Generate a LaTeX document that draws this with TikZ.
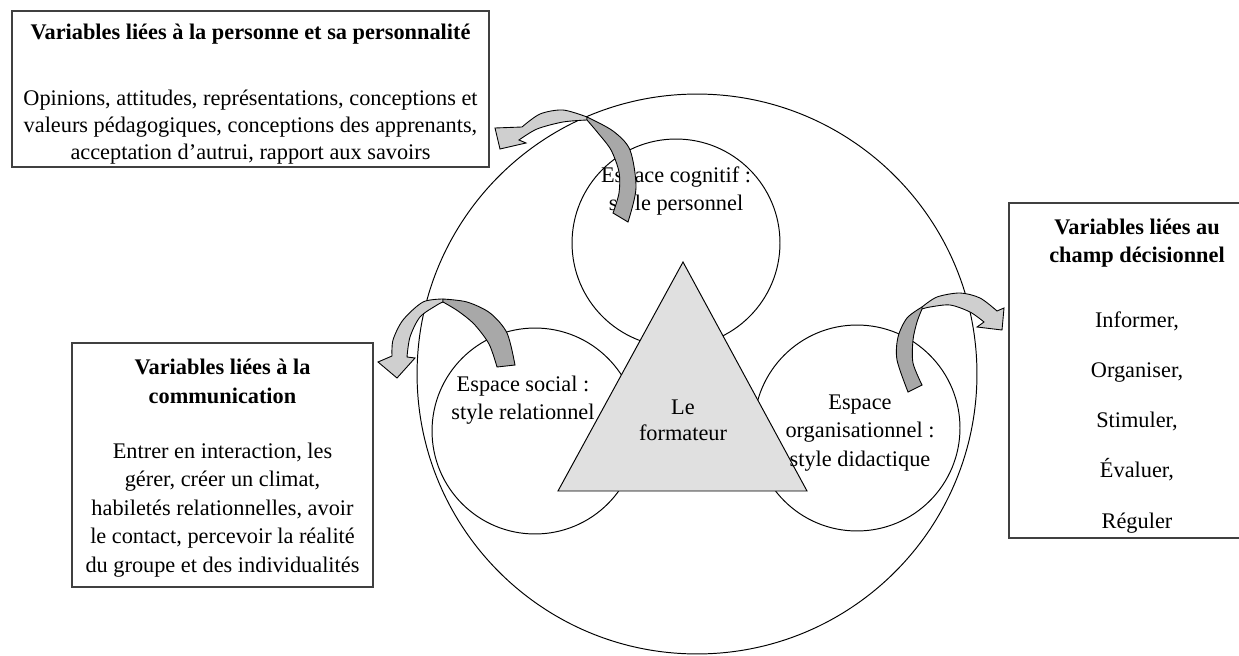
\documentclass[tikz,border=0pt]{standalone}
\usepackage{fontspec}
\setmainfont{Liberation Serif}
\begin{document}
\begin{tikzpicture}[x=0.02cm,y=-0.02cm,line width=0.55pt,
  cadre/.style={draw=black!75,line width=0.8pt,inner sep=0pt},
  texte/.style={align=center,inner sep=0pt,font=\fontsize{12.7}{16}\selectfont},
  espace/.style={draw,circle,inner sep=0pt},
  sombre/.style={draw,fill=black!34,line width=0.5pt},
  clair/.style={draw,fill=black!19,line width=0.5pt}]
\useasboundingbox (0,0) rectangle (1239,655);
\clip (0,0) rectangle (1239,655);
\node[espace,minimum size=11.2cm] (grand) at (697,374) {};
\node[espace,minimum size=4.16cm] (cogn) at (676,243) {};
\node[espace,minimum size=4.12cm] (soc) at (535,431) {};
\node[espace,minimum size=4.12cm] (orga) at (857,428) {};
\node[texte] (lcogn) at (676,191) {Espace cognitif :\\style personnel};
\draw[fill=black!12] (683,262) coordinate (S) -- (807,491) coordinate (D) -- (558,491) coordinate (G) -- cycle;
\node[texte,font=\fontsize{12.7}{15}\selectfont] (lform) at (683,420) {Le\\formateur};
\node[texte] (lsoc) at (523,400) {Espace social :\\style relationnel};
\node[texte] (lorga) at (860,433) {Espace\\organisationnel :\\style didactique};

\node[cadre,minimum width=9.54cm,minimum height=3.12cm] (perso) at (250.5,89) {};
\node[texte,font=\fontsize{12.7}{15.4}\selectfont] (tperso) at (250.5,94)
 {\textbf{Variables liées à la personne et sa personnalité}\\[22.2pt]
 Opinions, attitudes, représentations, conceptions et\\
 valeurs pédagogiques, conceptions des apprenants,\\
 acceptation d’autrui, rapport aux savoirs};
\node[cadre,minimum width=6.02cm,minimum height=4.88cm] (comm) at (222.5,465) {};
\node[texte,font=\fontsize{12.7}{16.2}\selectfont] (tcomm) at (222.5,468)
 {\textbf{Variables liées à la}\\\textbf{communication}\\[15.1pt]
 Entrer en interaction, les\\gérer, créer un climat,\\habiletés relationnelles, avoir\\
 le contact, percevoir la réalité\\du groupe et des individualités};
\node[cadre,minimum width=5.12cm,minimum height=6.7cm] (decis) at (1137,370.5) {};
\node[texte] (tdecis) at (1137,376)
 {\textbf{Variables liées au}\\\textbf{champ décisionnel}\\[21pt]
 Informer,\\[12.5pt]Organiser,\\[12.5pt]Stimuler,\\[12.5pt]Évaluer,\\[12.5pt]Réguler};

\filldraw[clair] plot[smooth] coordinates {(587,117) (563,110) (540,114) (522,127)} -- (495,128) -- (500,149) -- (526,143)
 -- plot[smooth] coordinates {(519,140) (537,129) (563,122) (587,120)} -- cycle;
\filldraw[sombre] plot[smooth] coordinates {(628,222) (636,188) (630,150) (613,131) (587,117)}
 -- plot[smooth] coordinates {(587,120) (598,133) (611,150) (619,172) (619,193) (613,213)} -- cycle;
\filldraw[clair] plot[smooth] coordinates {(443,299) (423,302) (403,320) (393,340) (392,356)} -- (378,362) -- (397,378) -- (415,358)
 -- plot[smooth] coordinates {(407,357) (410,337) (420,317) (437,305) (443,302)} -- cycle;
\filldraw[sombre] plot[smooth] coordinates {(515,365) (507,333) (490,313) (467,302) (443,299)}
 -- plot[smooth] coordinates {(443,302) (458,311) (474,324) (489,344) (497,367)} -- cycle;
\filldraw[clair] plot[smooth] coordinates {(922,307) (937,297) (960,293) (980,298) (997,311)} -- (1004,308) -- (1002,330) -- (977,327)
 -- plot[smooth] coordinates {(984,322) (970,312) (950,305) (930,307) (922,309)} -- cycle;
\filldraw[sombre] plot[smooth] coordinates {(908,392) (897,360) (898,337) (907,318) (922,307)}
 -- plot[smooth] coordinates {(922,309) (917,322) (913,340) (913,363) (922,385)} -- cycle;
\end{tikzpicture}
\end{document}
